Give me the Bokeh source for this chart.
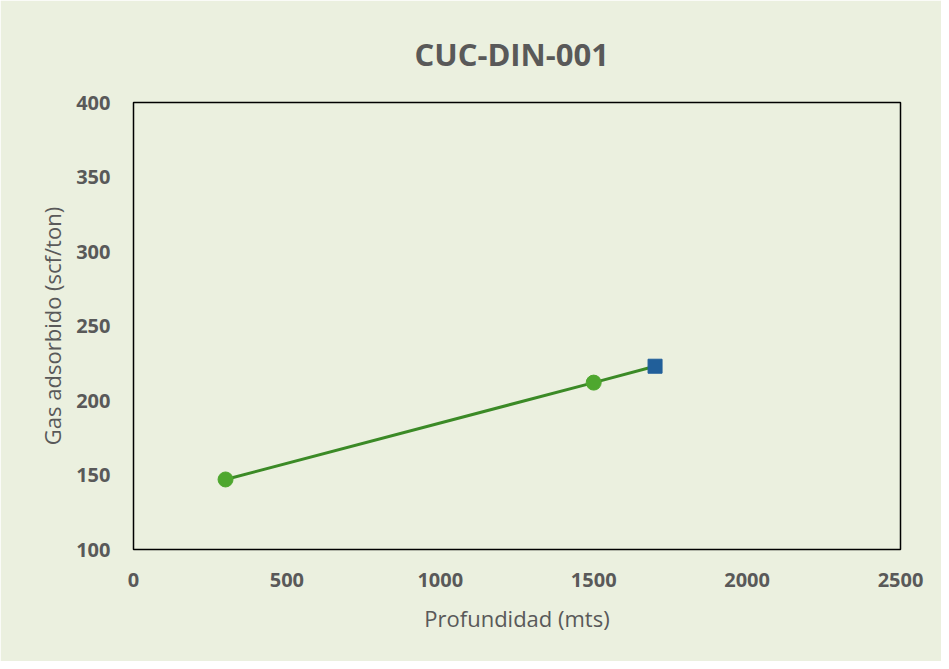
from bokeh.plotting import figure
from bokeh.models import Range1d, FixedTicker
from bokeh.embed import file_html
from bokeh.resources import INLINE

title_text = "CUC-DIN-001"
x_label = "Profundidad (mts)"
y_label = "Gas adsorbido (scf/ton)"

line_depth = [300, 1500, 1700]
line_gas = [147, 212, 223]
pts_depth = [300, 1500]
pts_gas = [147, 212]
sq_depth = [1700]
sq_gas = [223]

x_ticks = [0, 500, 1000, 1500, 2000, 2500]
y_ticks = [100, 150, 200, 250, 300, 350, 400]

BG = "#EBF0DF"
TXT = "#595959"
FONT = "Open Sans"

p = figure(width=941, height=661, output_backend="svg", toolbar_location=None,
           x_range=Range1d(0, 2500), y_range=Range1d(100, 400),
           min_border_left=133, min_border_right=41, min_border_top=102, min_border_bottom=112)
p.background_fill_color = BG
p.border_fill_color = BG
p.outline_line_color = "black"
p.outline_line_width = 1.5
p.grid.visible = False

p.title.text = title_text
p.title.align = "left"
p.title.text_font = FONT
p.title.text_font_size = "31px"
p.title.text_font_style = "bold"
p.title.text_color = TXT
p.title.offset = 281
p.title.standoff = 56

for ax, ticks in ((p.xaxis, x_ticks), (p.yaxis, y_ticks)):
    ax.ticker = FixedTicker(ticks=ticks)
    ax.axis_line_color = None
    ax.major_tick_line_color = None
    ax.minor_tick_line_color = None
    ax.major_label_text_font = FONT
    ax.major_label_text_font_style = "bold"
    ax.major_label_text_font_size = "20px"
    ax.major_label_text_color = TXT
    ax.axis_label_text_font = FONT
    ax.axis_label_text_font_style = "normal"
    ax.axis_label_text_font_size = "22px"
    ax.axis_label_text_color = TXT

p.xaxis.axis_label = x_label
p.yaxis.axis_label = y_label
p.xaxis.major_label_standoff = 17
p.yaxis.major_label_standoff = 17
p.xaxis.axis_label_standoff = 13
p.yaxis.axis_label_standoff = 6

p.line(line_depth, line_gas, line_color="#3B8A26", line_width=3)
p.scatter(pts_depth, pts_gas, marker="circle", size=15, fill_color="#4EA72E", line_color="#4EA72E")
p.scatter(sq_depth, sq_gas, marker="square", size=14, fill_color="#215F9A", line_color="#215F9A")

open("out.html", "w").write(file_html(p, INLINE))
